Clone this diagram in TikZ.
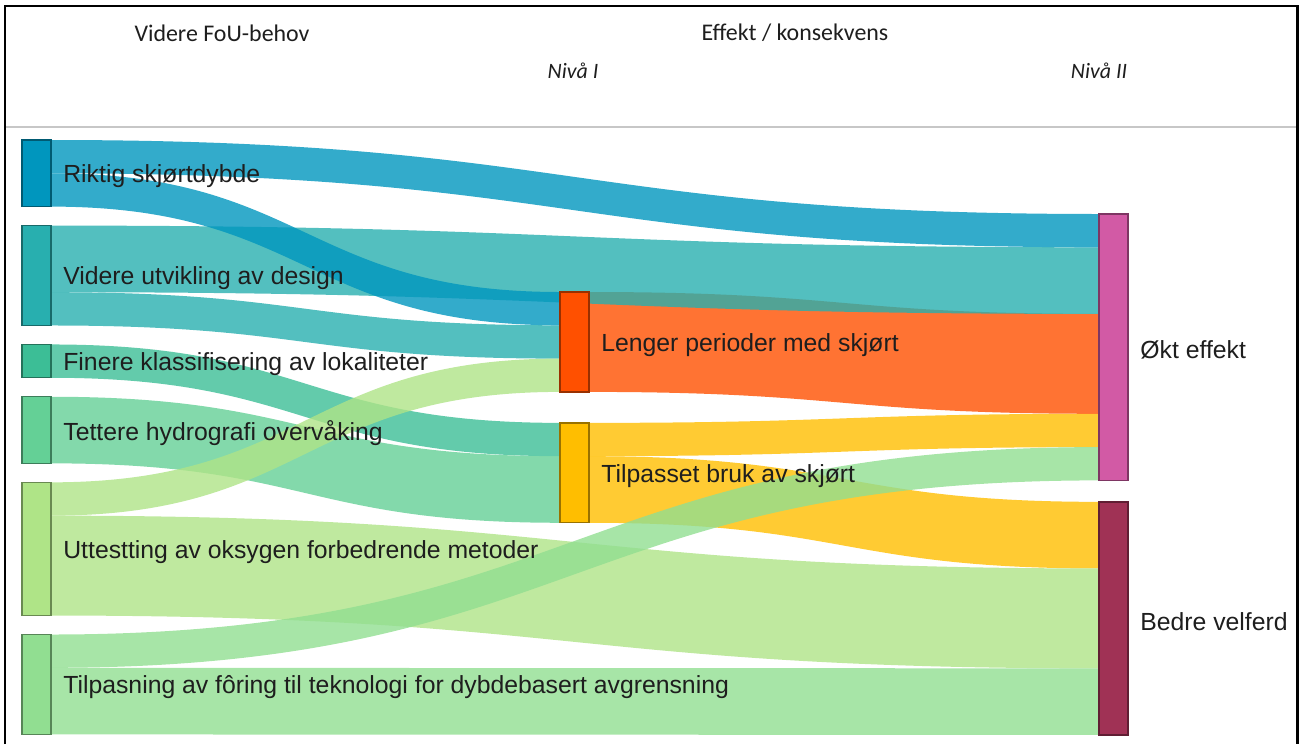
\documentclass[tikz,border=0pt]{standalone}
\usepackage{fontspec}
\setmainfont{Liberation Sans}
\newfontfamily\headfont{Carlito}
\usepackage{tikz}
\usetikzlibrary{positioning, calc}
\pgfdeclarelayer{flowlayer}
\pgfsetlayers{flowlayer,main}
\definecolor{riktigcolor}{RGB}{0,150,190}
\definecolor{viderecolor}{RGB}{40,175,175}
\definecolor{finerecolor}{RGB}{60,190,150}
\definecolor{tetterecolor}{RGB}{100,208,150}
\definecolor{uttestcolor}{RGB}{175,228,135}
\definecolor{tilpasncolor}{RGB}{145,222,145}
\definecolor{lengercolor}{RGB}{255,80,0}
\definecolor{tilpassetcolor}{RGB}{255,190,0}
\definecolor{oktcolor}{RGB}{210,90,165}
\definecolor{bedrecolor}{RGB}{160,50,85}
\definecolor{labeltext}{RGB}{30,30,30}

% one unit of flow, in px
\def\flowu{33.3}
% \flow{from}{offset at from}{to}{offset at to}{width}{colour}
\newcommand{\flow}[6]{%
  \fill[fill=#6, fill opacity=0.8]
    let \p1=($(#1.north east)+(0,#2*\flowu)$),
        \p2=($(#3.north west)+(0,#4*\flowu)$),
        \p3=(0,#5*\flowu),
        \p4=($(\p1)!0.5!(\p2)$) in
    (\p1) .. controls (\x4,\y1) and (\x4,\y2) .. (\p2)
    -- (\x2,\y2+\y3) .. controls (\x4,\y2+\y3) and (\x4,\y1+\y3) .. (\x1,\y1+\y3)
    -- cycle;}

\begin{document}
\begin{tikzpicture}[
    x=0.02cm, y=-0.02cm,
    bar/.style={
        rectangle,
        inner sep=0pt,
        outer sep=0pt,
        minimum width=0.58cm,
        line width=0.8pt
    },
    lbl/.style={font=\fontsize{14.1}{16}\selectfont, text=labeltext, inner sep=0pt, yshift=-0.06cm},
    head/.style={font=\headfont\fontsize{13.6}{16}\selectfont, text=labeltext},
    subhead/.style={font=\headfont\itshape\fontsize{12.5}{15}\selectfont, text=labeltext}
]
\useasboundingbox (0,0) rectangle (1304,744);

%% FRAME %%
\draw [line width=1.7pt] (5,744) -- (5,6) -- (1297,6) -- (1297,744);
\draw [black!22, line width=1.2pt] (6,127) -- (1296,127);

%% HEADINGS %%
\node (fou_title) [head] at (222,33) {Videre FoU-behov};
\node (effekt_title) [head] at (795,33) {Effekt / konsekvens};
\node (niva1) [subhead] at (573,71) {Nivå I};
\node (niva2) [subhead] at (1099,71) {Nivå II};

%% LEFT COLUMN %%
\node (riktig) [bar, anchor=north west, minimum height=2*0.666cm,
    fill=riktigcolor, draw=riktigcolor!60!black] at (22,140) {};
\node (videre) [bar, below=0.38cm of riktig, minimum height=3*0.666cm,
    fill=viderecolor, draw=viderecolor!60!black] {};
\node (finere) [bar, below=0.38cm of videre, minimum height=0.666cm,
    fill=finerecolor, draw=finerecolor!60!black] {};
\node (tettere) [bar, below=0.38cm of finere, minimum height=2*0.666cm,
    fill=tetterecolor, draw=tetterecolor!60!black] {};
\node (uttest) [bar, below=0.38cm of tettere, minimum height=4*0.666cm,
    fill=uttestcolor, draw=uttestcolor!60!black] {};
\node (tilpasn) [bar, below=0.38cm of uttest, minimum height=3*0.666cm,
    fill=tilpasncolor, draw=tilpasncolor!60!black] {};

%% MIDDLE COLUMN - Nivå I %%
\node (lenger) [bar, anchor=north west, minimum height=3*0.666cm,
    fill=lengercolor, draw=lengercolor!60!black] at (560,292) {};
\node (tilpasset) [bar, below=0.62cm of lenger, minimum height=3*0.666cm,
    fill=tilpassetcolor, draw=tilpassetcolor!60!black] {};

%% RIGHT COLUMN - Nivå II %%
\node (okt) [bar, anchor=north west, minimum height=8*0.666cm,
    fill=oktcolor, draw=oktcolor!60!black] at (1099,214) {};
\node (bedre) [bar, below=0.43cm of okt, minimum height=7*0.666cm,
    fill=bedrecolor, draw=bedrecolor!60!black] {};

%% LABELS %%
\node (riktig_lbl) [lbl, right=0.24cm of riktig] {Riktig skjørtdybde};
\node (videre_lbl) [lbl, right=0.24cm of videre] {Videre utvikling av design};
\node (finere_lbl) [lbl, right=0.24cm of finere] {Finere klassifisering av lokaliteter};
\node (tettere_lbl) [lbl, right=0.24cm of tettere] {Tettere hydrografi overvåking};
\node (uttest_lbl) [lbl, right=0.24cm of uttest] {Uttestting av oksygen forbedrende metoder};
\node (tilpasn_lbl) [lbl, right=0.24cm of tilpasn] {Tilpasning av fôring til teknologi for dybdebasert avgrensning};
\node (lenger_lbl) [lbl, right=0.24cm of lenger] {Lenger perioder med skjørt};
\node (tilpasset_lbl) [lbl, right=0.24cm of tilpasset] {Tilpasset bruk av skjørt};
\node (okt_lbl) [lbl, right=0.24cm of okt] {Økt effekt};
\node (bedre_lbl) [lbl, right=0.24cm of bedre] {Bedre velferd};

%% FLOWS %%
\begin{pgfonlayer}{flowlayer}
    % Nivå I -> Nivå II
    \flow{lenger}{0}{okt}{3}{3}{lengercolor}
    \flow{tilpasset}{0}{okt}{6}{1}{tilpassetcolor}
    \flow{tilpasset}{1}{bedre}{0}{2}{tilpassetcolor}
    % FoU-behov -> effekt
    \flow{videre}{0}{okt}{1}{2}{viderecolor}
    \flow{videre}{2}{lenger}{1}{1}{viderecolor}
    \flow{riktig}{0}{okt}{0}{1}{riktigcolor}
    \flow{riktig}{1}{lenger}{0}{1}{riktigcolor}
    \flow{finere}{0}{tilpasset}{0}{1}{finerecolor}
    \flow{tettere}{0}{tilpasset}{1}{2}{tetterecolor}
    \flow{uttest}{0}{lenger}{2}{1}{uttestcolor}
    \flow{uttest}{1}{bedre}{2}{3}{uttestcolor}
    \flow{tilpasn}{0}{okt}{7}{1}{tilpasncolor}
    \flow{tilpasn}{1}{bedre}{5}{2}{tilpasncolor}
\end{pgfonlayer}

\end{tikzpicture}
\end{document}
